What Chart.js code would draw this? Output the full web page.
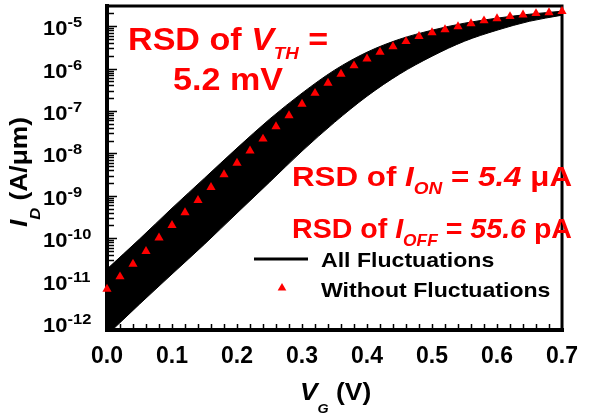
<!DOCTYPE html>
<html>
<head>
<meta charset="utf-8">
<script src="https://cdn.jsdelivr.net/npm/chart.js@4.4.1/dist/chart.umd.min.js"></script>
<style>
  html, body { margin: 0; padding: 0; background: #fff; }
</style>
</head>
<body>
<canvas id="chart" width="591" height="416"></canvas>
<script>
// ---- data ----
// gate voltage for the envelope of all fluctuating devices
const VG_BAND = [0, 0.05, 0.10, 0.15, 0.20, 0.25, 0.30, 0.35, 0.40, 0.45, 0.50, 0.55, 0.60, 0.65, 0.70];
// upper / lower edge of the black band (A/um)
const ID_BAND_HIGH = [1.86e-11, 9.5e-11, 5.1e-10, 2.6e-9, 1.33e-8, 6.4e-8, 2.63e-7, 9.2e-7, 2.44e-6, 4.93e-6,
  8.05e-6, 1.18e-5, 1.55e-5, 1.92e-5, 2.26e-5];
const ID_BAND_LOW = [5.2e-13, 2.77e-12, 1.42e-11, 7.2e-11, 3.9e-10, 2.09e-9, 1.13e-8, 5.4e-8, 2.23e-7, 7.4e-7,
  1.96e-6, 4.43e-6, 8.05e-6, 1.31e-5, 1.82e-5];
// device without fluctuations (red triangles)
const VG_NOMINAL = [0, 0.02, 0.04, 0.06, 0.08, 0.10, 0.12, 0.14, 0.16, 0.18, 0.20, 0.22, 0.24, 0.26, 0.28, 0.30,
  0.32, 0.34, 0.36, 0.38, 0.40, 0.42, 0.44, 0.46, 0.48, 0.50, 0.52, 0.54, 0.56, 0.58, 0.60, 0.62, 0.64, 0.66, 0.68, 0.70];
const ID_NOMINAL = [6.3e-12, 1.23e-11, 2.45e-11, 4.9e-11, 1.02e-10, 2.0e-10, 4.0e-10, 7.8e-10, 1.58e-9, 3.16e-9,
  5.9e-9, 1.15e-8, 2.19e-8, 4.27e-8, 7.8e-8, 1.45e-7, 2.63e-7, 4.57e-7, 7.4e-7, 1.17e-6, 1.70e-6, 2.45e-6,
  3.31e-6, 4.37e-6, 5.75e-6, 7.08e-6, 8.3e-6, 9.8e-6, 1.15e-5, 1.35e-5, 1.51e-5, 1.70e-5, 1.86e-5, 2.0e-5,
  2.11e-5, 2.24e-5];
const X_TICKS = [0, 0.1, 0.2, 0.3, 0.4, 0.5, 0.6, 0.7];
const Y_EXPONENTS = [-12, -11, -10, -9, -8, -7, -6, -5];
const Y_MIN = 6.8e-13, Y_MAX = 3e-5;

const FONT = '"Liberation Sans", Arial, sans-serif';
const SX = 1.1; // source text is a bit wider than Arial
const RED = '#ff0000';

function font(size, italic) { return (italic ? 'italic ' : '') + 'bold ' + size + 'px ' + FONT; }

// draw a row of text runs: [text, size, italic, dy]; fit = optional target width
function runs(ctx, x, y, parts, color, align, fit) {
  ctx.save();
  ctx.fillStyle = color;
  ctx.textBaseline = 'alphabetic';
  ctx.textAlign = 'left';
  let w = 0;
  parts.forEach((p) => { ctx.font = font(p[1], p[2]); w += ctx.measureText(p[0]).width; });
  const sx = fit ? fit / w : SX;
  let cx = align === 'center' ? -w / 2 : (align === 'right' ? -w : 0);
  ctx.translate(x, y);
  ctx.scale(sx, 1);
  parts.forEach((p) => {
    ctx.font = font(p[1], p[2]);
    ctx.fillText(p[0], cx, p[3] || 0);
    cx += ctx.measureText(p[0]).width;
  });
  ctx.restore();
}

function triangle(ctx, x, y, r, color) {
  ctx.beginPath();
  ctx.moveTo(x, y - r);
  ctx.lineTo(x + r * 0.866, y + r * 0.5);
  ctx.lineTo(x - r * 0.866, y + r * 0.5);
  ctx.closePath();
  ctx.fillStyle = color;
  ctx.fill();
}

// frame + inward ticks go under the data, text on top
const decor = {
  id: 'decor',
  beforeDatasetsDraw(chart) {
    const ctx = chart.ctx, a = chart.chartArea;
    const xs = chart.scales.x, ys = chart.scales.y;
    ctx.save();
    ctx.strokeStyle = '#000';
    // y ticks (decades long, 2..9 short)
    ctx.lineWidth = 1.5;
    for (let e = -13; e <= -5; e++) {
      for (let k = 1; k <= 9; k++) {
        const v = k * Math.pow(10, e);
        if (v < Y_MIN || v > Y_MAX) continue;
        const y = Math.round(ys.getPixelForValue(v)) + 0.5;
        ctx.beginPath();
        ctx.moveTo(a.left, y);
        ctx.lineTo(a.left + 2 + (k === 1 ? 8 : 5), y);
        ctx.stroke();
      }
    }
    // x ticks every 0.02
    for (let i = 1; i < 35; i++) {
      const x = Math.round(xs.getPixelForValue(i * 0.02)) + 0.5;
      ctx.beginPath();
      ctx.moveTo(x, a.bottom);
      ctx.lineTo(x, a.bottom - 6);
      ctx.stroke();
    }
    // frame
    ctx.lineCap = 'square';
    ctx.lineWidth = 3;
    ctx.beginPath();
    ctx.moveTo(a.left, a.top); ctx.lineTo(a.right, a.top); ctx.lineTo(a.right, a.bottom);
    ctx.stroke();
    ctx.lineWidth = 4;
    ctx.beginPath();
    ctx.moveTo(a.left, a.top); ctx.lineTo(a.left, a.bottom); ctx.lineTo(a.right, a.bottom);
    ctx.stroke();
    ctx.restore();
  },
  afterDraw(chart) {
    const ctx = chart.ctx;
    const ys = chart.scales.y;
    ctx.save();

    // y tick labels 10^n
    Y_EXPONENTS.forEach((e) => {
      const y = ys.getPixelForValue(Math.pow(10, e));
      runs(ctx, 43, y + 9, [['10', 20, false, 0], ['-' + Math.abs(e), 15, false, -8]], '#000', 'left');
    });

    // axis titles
    runs(ctx, 300, 400, [['V', 24, true, 0], ['G', 13, true, 13], [' (V)', 24, false, 0]], '#000', 'left');
    ctx.save();
    ctx.translate(27, 172);
    ctx.rotate(-Math.PI / 2);
    runs(ctx, 0, 0, [['I', 24, true, 0], ['D', 15, true, 13], [' (A/\u03bcm)', 24, false, 0]], '#000', 'center');
    ctx.restore();

    // annotations
    runs(ctx, 128, 50, [['RSD of ', 31, false, 0], ['V', 31, true, 0], ['TH', 17, true, 9], [' =', 31, false, 0]], RED, 'left');
    runs(ctx, 173, 90, [['5.2 mV', 31, false, 0]], RED, 'left');
    runs(ctx, 292, 186, [['RSD of ', 28, false, 0], ['I', 28, true, 0], ['ON', 17, true, 8],
      [' = ', 28, false, 0], ['5.4', 28, true, 0], [' \u03bcA', 28, false, 0]], RED, 'left', 280);
    runs(ctx, 292, 238, [['RSD of ', 28, false, 0], ['I', 28, true, 0], ['OFF', 17, true, 8],
      [' = ', 28, false, 0], ['55.6', 28, true, 0], [' pA', 28, false, 0]], RED, 'left', 280);

    // legend
    const band = chart.data.datasets[1], ref = chart.data.datasets[0];
    ctx.lineWidth = 3;
    ctx.lineCap = 'butt';
    ctx.strokeStyle = band.borderColor;
    ctx.beginPath();
    ctx.moveTo(254, 259); ctx.lineTo(308, 259);
    ctx.stroke();
    runs(ctx, 321, 267, [[band.label, 21, false, 0]], '#000', 'left');
    triangle(ctx, 282, 288, 5, ref.backgroundColor);
    runs(ctx, 321, 297, [[ref.label, 21, false, 0]], '#000', 'left');
    ctx.restore();
  }
};

const pts = (xs, ys) => xs.map((x, i) => ({ x, y: ys[i] }));

new Chart(document.getElementById('chart'), {
  type: 'line',
  data: {
    datasets: [
      {
        label: 'Without Fluctuations', data: pts(VG_NOMINAL, ID_NOMINAL), order: 0, clip: false,
        showLine: false, pointStyle: 'triangle', pointRadius: 5.3, borderWidth: 0,
        backgroundColor: RED, borderColor: RED
      },
      {
        label: 'All Fluctuations', data: pts(VG_BAND, ID_BAND_HIGH), order: 1,
        borderColor: '#000', backgroundColor: '#000', borderWidth: 1, pointRadius: 0,
        fill: '+1', cubicInterpolationMode: 'monotone'
      },
      {
        label: '', data: pts(VG_BAND, ID_BAND_LOW), order: 2,
        borderColor: '#000', borderWidth: 1, pointRadius: 0, fill: false,
        cubicInterpolationMode: 'monotone'
      }
    ]
  },
  options: {
    responsive: false,
    animation: false,
    events: [],
    layout: { padding: { top: 6, right: 17, left: 0, bottom: 0 } },
    plugins: { legend: { display: false }, tooltip: { enabled: false } },
    scales: {
      x: {
        type: 'linear', min: 0, max: 0.7,
        afterBuildTicks: (s) => { s.ticks = X_TICKS.map((v) => ({ value: v })); },
        ticks: {
          callback: (v) => Number(v).toFixed(1), padding: 13, maxRotation: 0, autoSkip: false,
          color: '#000', font: { family: 'Liberation Sans', size: 23, weight: 'bold' }
        },
        grid: { display: false, drawTicks: false },
        border: { display: false },
        afterFit: (s) => { s.height = 86; }
      },
      y: {
        type: 'logarithmic', min: Y_MIN, max: Y_MAX,
        ticks: { display: false },
        grid: { display: false, drawTicks: false },
        border: { display: false },
        afterFit: (s) => { s.width = 107; }
      }
    }
  },
  plugins: [decor]
});
</script>
</body>
</html>
